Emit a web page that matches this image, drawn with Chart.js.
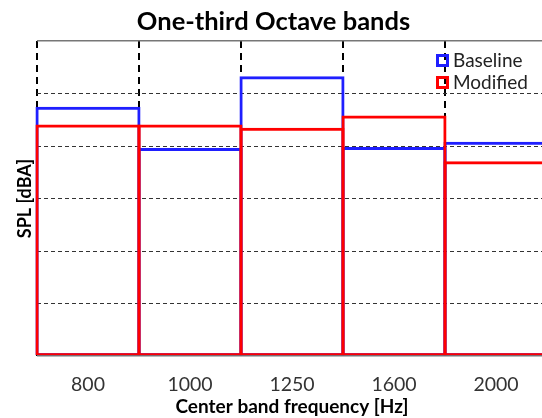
<!DOCTYPE html>
<html>
<head>
<meta charset="utf-8">
<script src="https://cdn.jsdelivr.net/npm/chart.js@4.4.0/dist/chart.umd.min.js"></script>
<style>
  html, body { margin: 0; padding: 0; background: #fff; overflow: hidden; }
  #wrap { position: relative; width: 550px; height: 418px; }
</style>
</head>
<body>
<div id="wrap"><canvas id="chart"></canvas></div>
<script>
const bands = ['800', '1000', '1250', '1600', '2000']
const baseline = [47.5, 39.6, 53.3, 39.8, 40.8]
const modified = [44.1, 44.1, 43.5, 45.8, 37.1]
const yMin = 0
const yMax = 60
const yStep = 10

const FONT = 'Lato'

// legend drawn inside the plot, top right
const insideLegend = {
  id: 'insideLegend',
  afterDraw(chart) {
    const { ctx, chartArea } = chart
    const x0 = chartArea.right - 111
    const rows = [chart.data.datasets[0], chart.data.datasets[1]]
    ctx.save()
    ctx.font = '19px ' + FONT
    ctx.textBaseline = 'middle'
    rows.forEach((ds, i) => {
      const cy = 60.5 + i * 22
      ctx.lineWidth = 3
      ctx.strokeStyle = ds.borderColor
      ctx.strokeRect(x0 + 1.5, cy - 5, 10, 10)
      ctx.fillStyle = '#222'
      ctx.fillText(ds.label, x0 + 17, cy)
    })
    ctx.restore()
  },
}

new Chart(document.getElementById('chart'), {
  type: 'bar',
  data: {
    labels: bands,
    datasets: [
      {
        label: 'Baseline',
        data: baseline,
        borderColor: '#1f1fff',
        backgroundColor: 'rgba(0,0,0,0)',
        borderWidth: { top: 3, left: 3, right: 3, bottom: 2 },
        order: 1,
      },
      {
        label: 'Modified',
        data: modified,
        borderColor: '#ff0000',
        backgroundColor: 'rgba(0,0,0,0)',
        borderWidth: { top: 3, left: 3, right: 3, bottom: 2 },
        order: 0,
      },
    ],
  },
  options: {
    responsive: true,
    maintainAspectRatio: false,
    animation: false,
    layout: { padding: { left: 0, right: 3, top: 0, bottom: 0 } },
    datasets: {
      bar: {
        grouped: false,
        categoryPercentage: 1,
        barPercentage: 1.03,
        borderSkipped: false,
        clip: false,
      },
    },
    plugins: {
      legend: { display: false },
      tooltip: { enabled: false },
      title: {
        display: true,
        text: 'One-third Octave bands',
        color: '#000',
        font: { family: FONT, size: 25.5, weight: 'bold' },
        padding: { top: 6.4, bottom: 4 },
      },
    },
    scales: {
      x: {
        afterFit: (s) => { s.height = 62 },
        grid: {
          offset: true,
          drawTicks: false,
          color: '#000',
          lineWidth: 2,
        },
        border: { display: false, dash: [7, 5] },
        ticks: {
          color: '#333',
          padding: 17,
          font: { family: FONT, size: 19.5 },
        },
        title: {
          display: true,
          text: 'Center band frequency [Hz]',
          color: '#000',
          font: { family: FONT, size: 19, weight: 'bold' },
          padding: { top: 0, bottom: 0 },
        },
      },
      y: {
        min: yMin,
        max: yMax,
        afterFit: (s) => { s.width = 37 },
        ticks: { display: false, stepSize: yStep },
        grid: {
          drawTicks: false,
          color: (c) => (c.tick.value === yMin || c.tick.value === yMax ? '#777' : '#333'),
          lineWidth: (c) => (c.tick.value === yMin || c.tick.value === yMax ? 1.5 : 1),
        },
        border: {
          display: false,
          dash: (c) => (c.tick && (c.tick.value === yMin || c.tick.value === yMax) ? [] : [4, 3]),
        },
        title: {
          display: true,
          text: 'SPL [dBA]',
          color: '#000',
          font: { family: FONT, size: 18, weight: 'bold' },
          padding: { top: 14, bottom: 0 },
        },
      },
    },
  },
  plugins: [insideLegend],
})
</script>
</body>
</html>
